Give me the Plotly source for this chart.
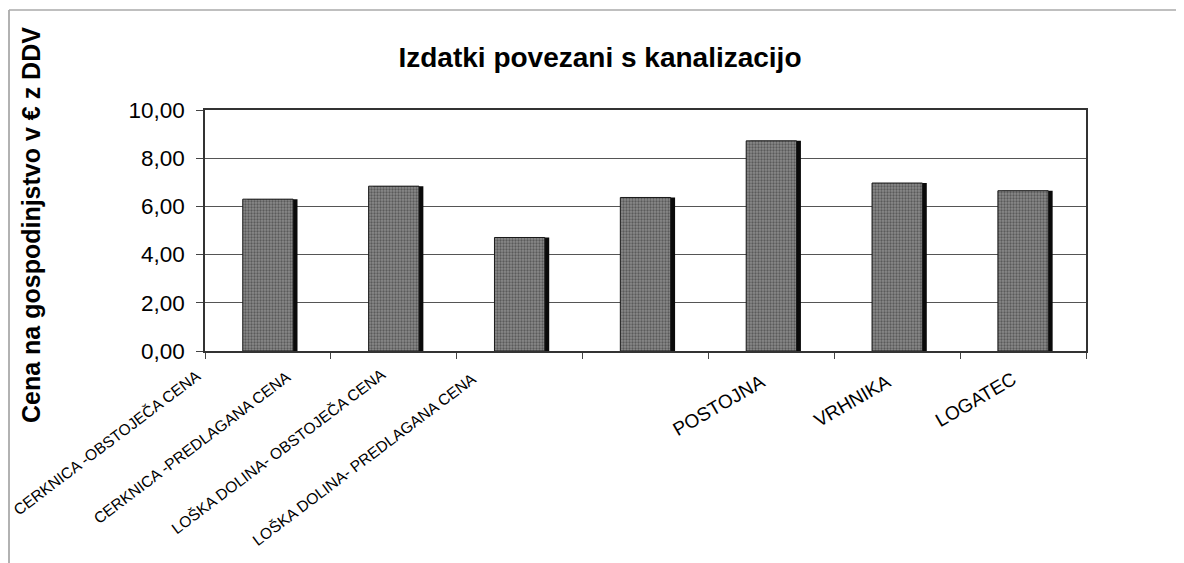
import plotly.graph_objects as go

categories = [
    "CERKNICA -OBSTOJEČA CENA",
    "CERKNICA -PREDLAGANA CENA",
    "LOŠKA DOLINA- OBSTOJEČA CENA",
    "LOŠKA DOLINA- PREDLAGANA CENA",
    "POSTOJNA",
    "VRHNIKA",
    "LOGATEC",
]
values = [6.30, 6.84, 4.71, 6.37, 8.72, 6.97, 6.65]
y_ticks = [0, 2, 4, 6, 8, 10]

title_text = "Izdatki povezani s kanalizacijo"
y_title = "Cena na gospodinjstvo v € z DDV"

# label styling (position offsets in px, font sizes, angles)
label_xshift = [-63, -99, -130, -165, -2, -1, -2]
label_yshift = [-14, -15, -13, -18, -19, -18, -16]
label_size = [15.5, 15.5, 15.5, 15.5, 19, 19, 19]
label_angle = [-37, -37, -37, -37, -30, -30, -30]

FONT = "Liberation Sans, Arial, sans-serif"

# page has an 8px body margin; work in page pixel coordinates
OFF = 8
W, H = 1184 - OFF, 563 - OFF
PL, PR, PT, PB = 205, 1086, 110, 351  # plot area in page px


def px_x(x):
    return (x - PL) / (PR - PL)


def px_y(y):
    return (PB - y) / (PB - PT)


fig = go.Figure()
# shadow
fig.add_trace(go.Bar(
    x=categories, y=values, width=0.4, offset=-0.165,
    marker=dict(color="#0a0a0a", line=dict(width=0)),
    hoverinfo="skip", showlegend=False,
))
# main bars
fig.add_trace(go.Bar(
    x=categories, y=values, width=0.4, offset=-0.2,
    marker=dict(
        color="#777777",
        line=dict(color="#1a1a1a", width=1),
        pattern=dict(shape=".", fgcolor="#2a2a2a", bgcolor="#8a8a8a", size=3, solidity=0.45),
    ),
    showlegend=False,
))

fig.update_layout(
    width=W, height=H,
    margin=dict(l=PL - OFF, r=W + OFF - PR, t=PT - OFF, b=H + OFF - PB),
    paper_bgcolor="white", plot_bgcolor="white",
    barmode="overlay",
    separators=",.",
    font=dict(family=FONT, color="black"),
    showlegend=False,
    title=dict(text="<b>" + title_text + "</b>", x=(600 - OFF) / W, xanchor="center",
               y=1 - (57 - OFF) / H, yanchor="middle", font=dict(size=28, family=FONT)),
)
fig.update_xaxes(
    type="category", showticklabels=False,
    categoryorder="array", categoryarray=categories,
    range=[-0.5, len(categories) - 0.5], autorange=False,
    ticks="outside", tickson="boundaries", ticklen=6, tickcolor="#444",
    showline=True, linecolor="#333", linewidth=1.5, mirror=True,
    showgrid=False, automargin=False,
)
fig.update_yaxes(
    range=[0, 10], autorange=False, tickvals=y_ticks, tickformat=".2f",
    tickfont=dict(size=22.5, family=FONT),
    ticks="outside", ticklen=7, tickcolor="#444",
    showline=True, linecolor="#333", linewidth=1.5, mirror=True,
    showgrid=True, gridcolor="#555", gridwidth=1,
    automargin=False, ticklabelstandoff=7,
)

# rotated category labels
for cat, dx, dy, fs, ang in zip(categories, label_xshift, label_yshift, label_size, label_angle):
    fig.add_annotation(
        text=cat, x=cat, y=0, xref="x", yref="y",
        xanchor="right", yanchor="top", textangle=ang,
        xshift=dx, yshift=dy, showarrow=False,
        font=dict(size=fs, family=FONT), borderpad=0,
    )

fig.add_annotation(
    text="<b>" + y_title + "</b>", textangle=-90,
    xref="paper", yref="paper", x=px_x(31), y=px_y(225),
    xanchor="center", yanchor="middle", showarrow=False,
    font=dict(size=25, family=FONT),
)

# outer chart frame (left and top)
fig.add_shape(type="line", xref="paper", yref="paper",
              x0=px_x(9), x1=px_x(9), y0=px_y(563), y1=px_y(10),
              line=dict(color="#999", width=1.5))
fig.add_shape(type="line", xref="paper", yref="paper",
              x0=px_x(9), x1=px_x(1184), y0=px_y(10), y1=px_y(10),
              line=dict(color="#aaa", width=1.5))

fig.write_html("out.html")
